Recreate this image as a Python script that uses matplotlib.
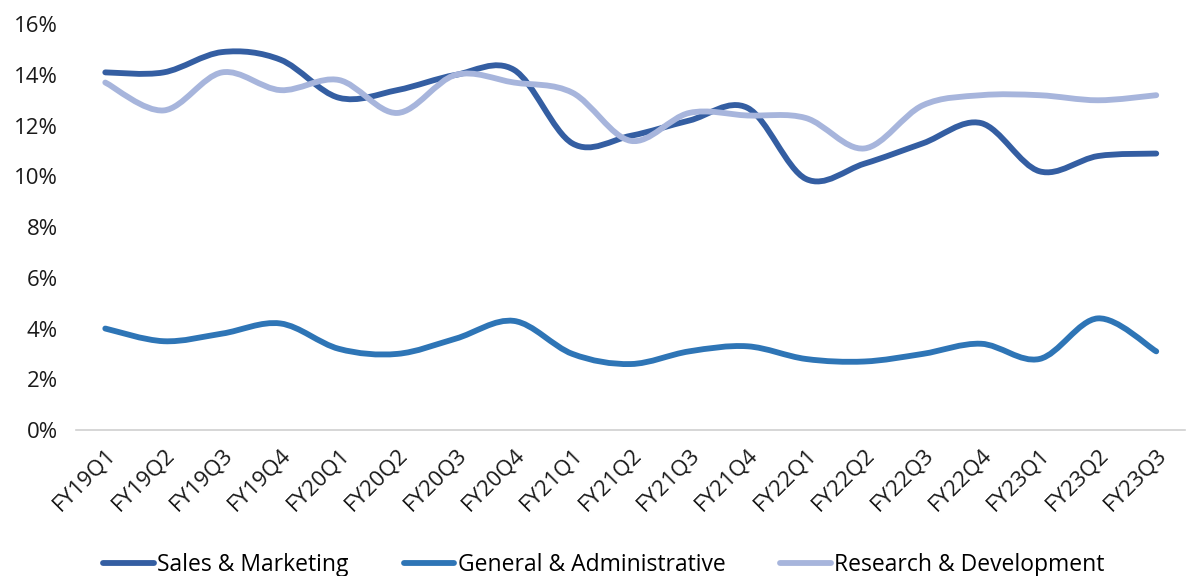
import matplotlib
matplotlib.use("Agg")
import matplotlib.pyplot as plt
from matplotlib.path import Path
from matplotlib.patches import PathPatch
from matplotlib.lines import Line2D
from matplotlib.ticker import FuncFormatter, MultipleLocator
import numpy as np

quarters = ["FY19Q1", "FY19Q2", "FY19Q3", "FY19Q4", "FY20Q1", "FY20Q2", "FY20Q3", "FY20Q4",
            "FY21Q1", "FY21Q2", "FY21Q3", "FY21Q4", "FY22Q1", "FY22Q2", "FY22Q3", "FY22Q4",
            "FY23Q1", "FY23Q2", "FY23Q3"]
sales_marketing = [14.1, 14.1, 14.9, 14.6, 13.1, 13.4, 14.0, 14.2, 11.3, 11.6, 12.2, 12.7,
                   9.9, 10.5, 11.3, 12.1, 10.2, 10.8, 10.9]
general_admin = [4.0, 3.5, 3.8, 4.2, 3.2, 3.0, 3.6, 4.3, 3.0, 2.6, 3.1, 3.3,
                 2.8, 2.7, 3.0, 3.4, 2.8, 4.4, 3.1]
research_dev = [13.7, 12.6, 14.1, 13.4, 13.8, 12.5, 14.0, 13.7, 13.3, 11.4, 12.5, 12.4,
                12.3, 11.1, 12.8, 13.2, 13.2, 13.0, 13.2]

series = [("Sales & Marketing", sales_marketing, "#345ea2"),
          ("General & Administrative", general_admin, "#2e75b6"),
          ("Research & Development", research_dev, "#a7b5dc")]

plt.rcParams['font.family'] = ['Open Sans', 'DejaVu Sans']

fig = plt.figure(figsize=(11.89, 5.76), dpi=100)
ax = fig.add_axes([0.064, 0.2535, 0.933, 0.7045])


def smooth_path(xs, ys):
    # Catmull-Rom style smoothing expressed as cubic Bezier segments (Excel-like smoothed line)
    pts = np.column_stack([xs, ys])
    n = len(pts)
    verts = [tuple(pts[0])]
    codes = [Path.MOVETO]
    t = 1.0 / 6.0
    for i in range(n - 1):
        p0 = pts[i - 1] if i > 0 else pts[i]
        p1 = pts[i]
        p2 = pts[i + 1]
        p3 = pts[i + 2] if i + 2 < n else pts[i + 1]
        c1 = p1 + (p2 - p0) * t
        c2 = p2 - (p3 - p1) * t
        verts += [tuple(c1), tuple(c2), tuple(p2)]
        codes += [Path.CURVE4] * 3
    return Path(verts, codes)


x = np.arange(len(quarters))
handles = []
for name, vals, color in series:
    p = smooth_path(x, np.array(vals, dtype=float))
    patch = PathPatch(p, facecolor="none", edgecolor=color, lw=4.2, capstyle="round", joinstyle="round")
    ax.add_patch(patch)
    handles.append(Line2D([0], [0], color=color, lw=4.2, solid_capstyle="round"))

ax.set_xlim(-0.5, len(quarters) - 0.5)
ax.set_ylim(0, 16)
ax.yaxis.set_major_locator(MultipleLocator(2))
ax.yaxis.set_major_formatter(FuncFormatter(lambda v, p: f"{v:.0f}%"))
ax.set_xticks(x)
ax.set_xticklabels(quarters, rotation=45, ha="right", rotation_mode="anchor")
ax.tick_params(axis="both", length=0, labelsize=16, colors="#1a1a1a")
ax.tick_params(axis="x", pad=10)
ax.tick_params(axis="y", pad=13)
for s in ["top", "right", "left"]:
    ax.spines[s].set_visible(False)
ax.spines["bottom"].set_color("#d0d0d0")
ax.spines["bottom"].set_linewidth(1.2)

fig.legend(handles, [s[0] for s in series], loc="lower center", ncol=3, frameon=False,
           fontsize=16.5, bbox_to_anchor=(0.508, -0.025), handlelength=2.2, handletextpad=0.15,
           columnspacing=2.4, borderaxespad=0.2)

fig.savefig("out.png", dpi=100)
